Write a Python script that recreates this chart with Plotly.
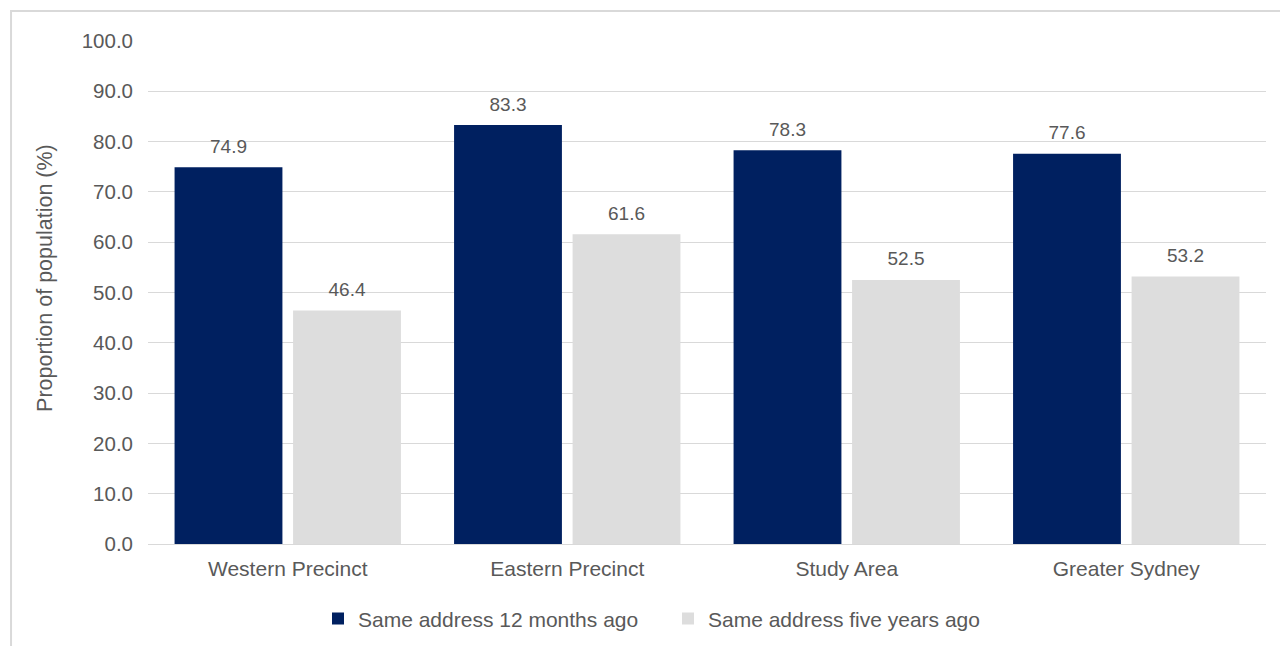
import plotly.graph_objects as go

# Residential mobility by area
categories = ["Western Precinct", "Eastern Precinct", "Study Area", "Greater Sydney"]
same_12_months = [74.9, 83.3, 78.3, 77.6]
same_5_years = [46.4, 61.6, 52.5, 53.2]
y_ticks = [0, 10, 20, 30, 40, 50, 60, 70, 80, 90, 100]

TEXT = "#595959"
FONT = "Liberation Sans, Arial, sans-serif"
series = [
    ("Same address 12 months ago", same_12_months, "#002060", "a"),
    ("Same address five years ago", same_5_years, "#DDDDDD", "b"),
]

fig = go.Figure()
for name, values, color, group in series:
    fig.add_trace(go.Bar(
        name=name, x=categories, y=values,
        marker=dict(color=color, line=dict(width=0)),
        offsetgroup=group,
    ))
# value labels, placed over each bar's slot
for name, values, color, group in series:
    fig.add_trace(go.Scatter(
        x=categories, y=values, mode="markers+text",
        text=[f"{v:.1f}" for v in values], textposition="top center",
        textfont=dict(color=TEXT, size=19, family=FONT),
        marker=dict(size=14, color="rgba(0,0,0,0)"),
        offsetgroup=group, showlegend=False, hoverinfo="skip",
        cliponaxis=False,
    ))

fig.update_layout(
    width=1280, height=646,
    margin=dict(l=148, r=14, t=41, b=102),
    paper_bgcolor="white", plot_bgcolor="white",
    font=dict(family=FONT, color=TEXT, size=20),
    barmode="group", bargap=0.152, bargroupgap=0.09,
    scattermode="group", scattergap=0.152,
    showlegend=True,
    legend=dict(
        orientation="h", xref="container", yref="container",
        x=318 / 1280, xanchor="left", y=0.042, yanchor="middle",
        font=dict(size=21, color=TEXT, family=FONT),
        entrywidth=305, entrywidthmode="pixels",
        traceorder="normal",
    ),
    shapes=[dict(
        type="rect", xref="paper", yref="paper",
        x0=-0.1225, x1=1.03, y0=-0.25, y1=1.0596,
        line=dict(color="#D9D9D9", width=2), fillcolor="rgba(0,0,0,0)",
        layer="below",
    )],
    annotations=[dict(
        text="Proportion of population (%)", textangle=-90,
        xref="paper", yref="paper", x=-0.0921, y=0.529,
        xanchor="center", yanchor="middle", showarrow=False,
        font=dict(size=21.5, color=TEXT, family=FONT),
    )],
)

fig.update_yaxes(
    range=[0, 100], tickvals=y_ticks, tickformat=".1f",
    showgrid=True, gridcolor="#D9D9D9", gridwidth=1.3,
    zeroline=True, zerolinecolor="#D9D9D9", zerolinewidth=1.3,
    showline=False, ticks="", ticklabelstandoff=14,
    tickfont=dict(size=20.5, color=TEXT),
)
fig.update_xaxes(
    showline=True, linecolor="#D9D9D9", linewidth=1.3,
    ticks="", tickfont=dict(size=21, color=TEXT),
    ticklabelstandoff=6,
)

fig.write_html("out.html")
